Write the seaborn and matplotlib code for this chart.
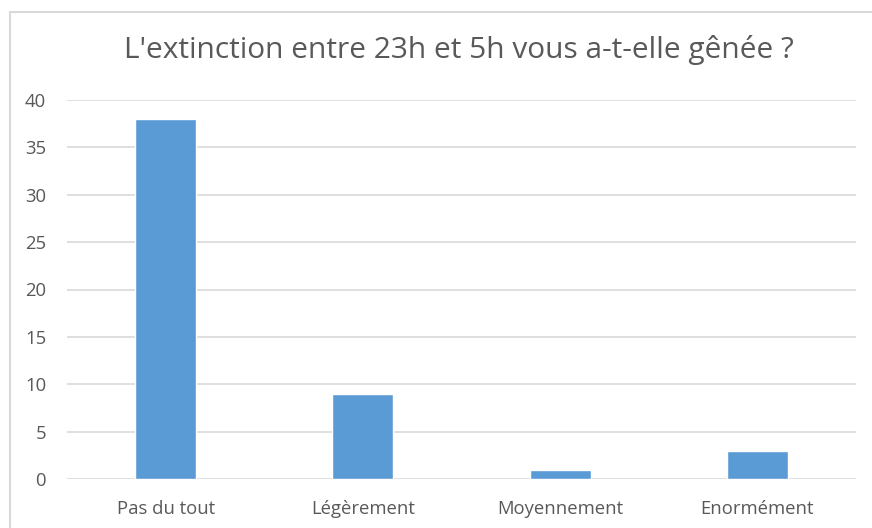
import matplotlib
matplotlib.use("Agg")
import matplotlib.pyplot as plt
import seaborn as sns
import pandas as pd
from matplotlib.patches import Rectangle

categories = ["Pas du tout", "Légèrement", "Moyennement", "Enormément"]
counts = [38, 9, 1, 3]
y_ticks = [0, 5, 10, 15, 20, 25, 30, 35, 40]

sns.set_style("white")
plt.rcParams["font.family"] = ["Open Sans", "DejaVu Sans"]

df = pd.DataFrame({"reponse": categories, "nombre": counts})

fig = plt.figure(figsize=(8.72, 5.28), dpi=100)
ax = fig.add_axes([67 / 872, 1 - 479 / 528, (856 - 67) / 872, (479 - 100) / 528])

sns.barplot(data=df, x="reponse", y="nombre", color="#5B9BD5", width=0.31,
            saturation=1, ax=ax, zorder=3)

ax.set_ylim(0, 40)
ax.set_xlim(-0.5, 3.5)
ax.set_yticks(y_ticks)
ax.set_xlabel("")
ax.set_ylabel("")
ax.yaxis.grid(True, color="#d9d9d9", linewidth=1.2, zorder=0)
ax.set_axisbelow(True)
for s in ax.spines.values():
    s.set_visible(False)
ax.tick_params(axis="both", length=0, labelcolor="#595959", labelsize=13.3)
ax.tick_params(axis="y", pad=15)
ax.tick_params(axis="x", pad=15)

fig.text(459 / 872, 1 - 50 / 528, "L'extinction entre 23h et 5h vous a-t-elle gênée ?",
         ha="center", va="center", fontsize=21.5, color="#595959")

# chart frame
fig.patches.append(Rectangle((9.5 / 872, -0.5), 2, 1.5 - 11.5 / 528,
                             transform=fig.transFigure, fill=False,
                             edgecolor="#d9d9d9", linewidth=1.5))

fig.savefig("out.png", dpi=100)
